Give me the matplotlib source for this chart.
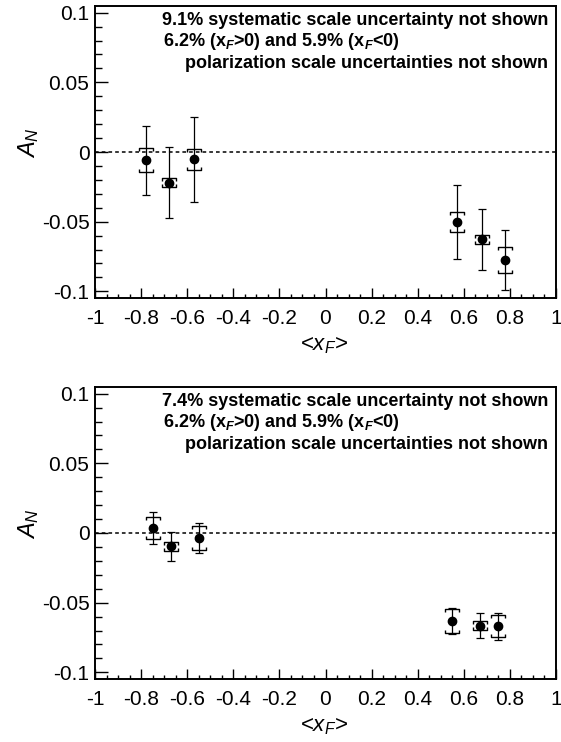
import matplotlib
matplotlib.use("Agg")
import matplotlib.pyplot as plt
import numpy as np
from matplotlib.path import Path
from matplotlib.ticker import MultipleLocator, FixedLocator, FixedFormatter

plt.rcParams['font.family'] = ['Liberation Sans', 'DejaVu Sans']
plt.rcParams['mathtext.fontset'] = 'custom'
plt.rcParams['mathtext.rm'] = 'Liberation Sans'
plt.rcParams['mathtext.it'] = 'Liberation Sans:italic'
plt.rcParams['mathtext.bf'] = 'Liberation Sans:italic:bold'
plt.rcParams['axes.unicode_minus'] = False

# ---------------- data ----------------
xf_top = np.array([-0.78, -0.68, -0.57, 0.57, 0.68, 0.78])
an_top = np.array([-0.0060, -0.0220, -0.0052, -0.0505, -0.0627, -0.0775])
stat_top = np.array([0.0250, 0.0256, 0.0304, 0.0266, 0.0220, 0.0216])
sys_top = np.array([0.0086, 0.0032, 0.0074, 0.0072, 0.0034, 0.0092])

xf_bot = np.array([-0.75, -0.67, -0.55, 0.55, 0.67, 0.75])
an_bot = np.array([0.0036, -0.0096, -0.0036, -0.0632, -0.0665, -0.0670])
stat_bot = np.array([0.0115, 0.0105, 0.0110, 0.0092, 0.0090, 0.0098])
sys_bot = np.array([0.0081, 0.0032, 0.0084, 0.0084, 0.0032, 0.0078])

xticks = [-1, -0.8, -0.6, -0.4, -0.2, 0, 0.2, 0.4, 0.6, 0.8, 1]
xtick_labels = ["-1", "-0.8", "-0.6", "-0.4", "-0.2", "0", "0.2", "0.4", "0.6", "0.8", "1"]
yticks = [-0.1, -0.05, 0, 0.05, 0.1]
ytick_labels = ["-0.1", "-0.05", "0", "0.05", "0.1"]

notes_top = ["9.1% systematic scale uncertainty not shown",
             r"6.2% (x$_{\mathbf{F}}$>0) and 5.9% (x$_{\mathbf{F}}$<0)",
             "polarization scale uncertainties not shown"]
notes_bot = ["7.4% systematic scale uncertainty not shown",
             r"6.2% (x$_{\mathbf{F}}$>0) and 5.9% (x$_{\mathbf{F}}$<0)",
             "polarization scale uncertainties not shown"]

# bracket markers for the systematic uncertainty
top_br = Path([(-1, -0.45), (-1, 0), (1, 0), (1, -0.45)],
              [Path.MOVETO, Path.LINETO, Path.LINETO, Path.LINETO])
bot_br = Path([(-1, 0.45), (-1, 0), (1, 0), (1, 0.45)],
              [Path.MOVETO, Path.LINETO, Path.LINETO, Path.LINETO])

W, H = 561, 742
fig = plt.figure(figsize=(W / 100, H / 100), dpi=100)
ax1 = fig.add_axes([95 / W, 1 - 298 / H, 461 / W, 292 / H])
ax2 = fig.add_axes([95 / W, 1 - 679 / H, 461 / W, 292 / H])


def draw(ax, x, an, stat, sys, notes):
    ax.axhline(0, color='k', lw=1.1, ls=(0, (2.4, 2.0)), zorder=1)
    ax.errorbar(x, an, yerr=stat, fmt='o', color='k', ms=6, capsize=2.8,
                elinewidth=0.9, capthick=0.9, zorder=3)
    ax.plot(x, an + sys, ls='none', marker=top_br, ms=10.5, mfc='none',
            mec='k', mew=1.0, zorder=2)
    ax.plot(x, an - sys, ls='none', marker=bot_br, ms=10.5, mfc='none',
            mec='k', mew=1.0, zorder=2)
    ax.set_xlim(-1, 1)
    ax.set_ylim(-0.1048, 0.1048)
    ax.xaxis.set_major_locator(FixedLocator(xticks))
    ax.xaxis.set_major_formatter(FixedFormatter(xtick_labels))
    ax.yaxis.set_major_locator(FixedLocator(yticks))
    ax.yaxis.set_major_formatter(FixedFormatter(ytick_labels))
    ax.xaxis.set_minor_locator(MultipleLocator(0.05))
    ax.yaxis.set_minor_locator(MultipleLocator(0.01))
    ax.tick_params(which='both', direction='in', top=False, right=False,
                   width=1.0, labelsize=15, colors='k')
    ax.tick_params(axis='x', which='major', length=7, pad=8)
    ax.tick_params(axis='x', which='minor', length=3.2)
    ax.tick_params(axis='y', which='major', length=9.4, pad=4)
    ax.tick_params(axis='y', which='minor', length=5)
    for s in ax.spines.values():
        s.set_linewidth(1.4)
    ax.set_xlabel(r"<$x_{F}$>", fontsize=16)
    ax.set_ylabel(r"$A_{N}$", fontsize=17)
    ax.xaxis.set_label_coords(0.497, -0.163)
    ax.xaxis.label.set_verticalalignment('center')
    ax.yaxis.set_label_coords(-0.145, 0.531)
    ax.yaxis.label.set_verticalalignment('center')
    ax.text(0.983, 0.952, notes[0], transform=ax.transAxes, ha='right',
            va='center', fontsize=13, fontweight='bold')
    ax.text(0.1475, 0.878, notes[1], transform=ax.transAxes, ha='left',
            va='center', fontsize=13, fontweight='bold')
    ax.text(0.983, 0.803, notes[2], transform=ax.transAxes, ha='right',
            va='center', fontsize=13, fontweight='bold')


draw(ax1, xf_top, an_top, stat_top, sys_top, notes_top)
draw(ax2, xf_bot, an_bot, stat_bot, sys_bot, notes_bot)

fig.savefig("out.png", dpi=100)
